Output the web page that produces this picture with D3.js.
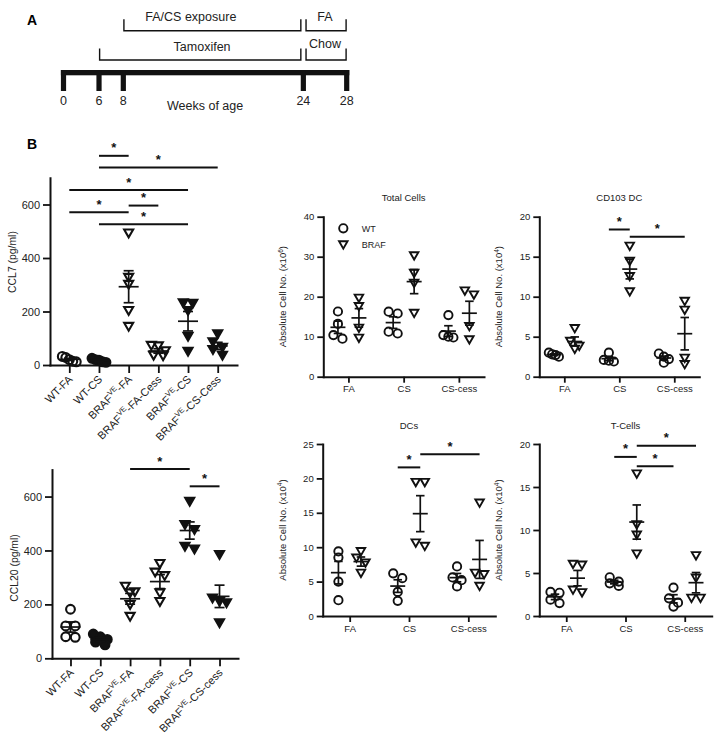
<!DOCTYPE html>
<html><head><meta charset="utf-8">
<script src="https://cdn.jsdelivr.net/npm/d3@7"></script>
<style>body{margin:0;background:#fff} svg{display:block}</style>
</head><body><svg id="c" width="725" height="743"></svg>
<script>
// ---------------- DATA ----------------
const timelineWeeks = [0, 6, 8, 24, 28];
const timelineAxisLabel = "Weeks of age";
const phaseLabels = ["FA/CS exposure", "FA", "Tamoxifen", "Chow"];
const phaseStart = [8, 24, 6, 24];
const phaseEnd = [24, 28, 24, 28];
const phaseRow = [0, 0, 1, 1];
const phaseLabelAt = [14, 26, 15, 26];

const cclCategories = ["WT-FA", "WT-CS", "BRAF-FA", "BRAF-FA-Cess", "BRAF-CS", "BRAF-CS-Cess"];
const cclMarkers = ["circle-open", "circle-filled", "tri-open", "tri-open", "tri-filled", "tri-filled"];
const ccl7TickLabels = [["WT-FA"], ["WT-CS"], ["BRAF", "VE", "-FA"], ["BRAF", "VE", "-FA-Cess"], ["BRAF", "VE", "-CS"], ["BRAF", "VE", "-CS-Cess"]];
const ccl20TickLabels = [["WT-FA"], ["WT-CS"], ["BRAF", "VE", "-FA"], ["BRAF", "VE", "-FA-cess"], ["BRAF", "VE", "-CS"], ["BRAF", "VE", "-CS-cess"]];
const cclYTicks = [0, 200, 400, 600];
const ccl7Values = [
  [32, 28, 20, 14, 12],
  [25, 20, 18, 12, 10],
  [492, 326, 300, 202, 143],
  [72, 70, 52, 35, 33],
  [231, 229, 202, 106, 50],
  [115, 85, 65, 56, 35]
];
const ccl20Values = [
  [182, 120, 120, 80, 78],
  [90, 80, 70, 60, 50],
  [266, 245, 241, 198, 154],
  [350, 318, 305, 241, 209],
  [581, 495, 476, 414, 404],
  [383, 222, 210, 204, 130]
];
// [from category, to category, bar level]
const ccl7Sig = [[1, 2, 782], [1, 5, 738], [0, 4, 654], [2, 3, 596], [0, 2, 571], [1, 4, 526]];
const ccl20Sig = [[2, 4, 702], [4, 5, 638]];

const cellGroups = ["FA", "CS", "CS-cess"];
const cellSeries = ["WT", "BRAF"];
const totalWT = [[16.3, 13.2, 9.5, 10.4], [15.8, 16.25, 10.8, 11.25], [15.4, 10.4, 10.0, 9.8]];
const totalBRAF = [[19.6, 17.5, 12.1, 9.6], [30.2, 25.8, 23.3, 15.8], [21.4, 20.4, 12.5, 9.2]];
const cd103WT = [[3.0, 2.7, 2.5, 2.8], [3.0, 1.9, 2.1, 2.0], [2.9, 2.5, 2.2, 1.75]];
const cd103BRAF = [[6.0, 4.4, 3.4, 3.8], [16.3, 14.4, 12.5, 10.6], [9.4, 8.3, 2.3, 1.5]];
const dcWT = [[8.5, 9.4, 5.0, 2.3], [5.5, 6.2, 3.5, 2.2], [7.2, 5.6, 5.2, 4.3]];
const dcBRAF = [[9.35, 8.4, 7.7, 6.2], [19.4, 19.4, 10.1, 10.6], [16.4, 6.2, 6.0, 4.3]];
const tWT = [[2.7, 2.8, 1.5, 1.9], [4.5, 4.0, 3.5, 3.8], [3.3, 2.05, 1.1, 1.55]];
const tBRAF = [[5.9, 6.0, 2.7, 3.0], [16.5, 10.6, 9.4, 7.2], [7.0, 4.4, 2.05, 2.05]];
// [group A, series A, group B, series B, bar level]
const cd103Sig = [[1, 0, 1, 1, 18.4], [1, 1, 2, 1, 17.5]];
const dcSig = [[1, 0, 1, 1, 21.6], [1, 1, 2, 1, 23.5]];
const tSig = [[1, 0, 1, 1, 18.5], [1, 1, 2, 1, 19.8], [1, 1, 2, 0, 17.4]];
const totalTicks = [0, 10, 20, 30, 40];
const cd103Ticks = [0, 5, 10, 15, 20];
const dcTicks = [0, 5, 10, 15, 20, 25];
const tTicks = [0, 5, 10, 15, 20];

// ---------------- DRAWING ----------------
const FONT = '"Liberation Sans", Arial, Helvetica, sans-serif';
const svg = d3.select("#c").attr("font-family", FONT);
const INK = "#111";

function styleAxis(sel, fs) {
  sel.attr("font-family", FONT).attr("font-size", fs);
  sel.select(".domain").attr("stroke", INK).attr("stroke-width", 2).attr("stroke-linecap", "square");
  sel.selectAll(".tick line").attr("stroke", INK).attr("stroke-width", 1.8);
  sel.selectAll(".tick text").attr("fill", "#222");
}

function marker(g, type, cx, cy, size) {
  const sw = size > 9.5 ? 2.1 : 1.9;
  if (type.startsWith("circle")) {
    g.append("circle").attr("cx", cx).attr("cy", cy).attr("r", size / 2 - 0.6)
      .attr("fill", type.endsWith("filled") ? INK : "none")
      .attr("stroke", INK).attr("stroke-width", sw);
  } else {
    const w = size - 1, h = w * 0.87;
    const p = d3.path();
    p.moveTo(cx - w / 2, cy - h / 2); p.lineTo(cx + w / 2, cy - h / 2); p.lineTo(cx, cy + h / 2); p.closePath();
    g.append("path").attr("d", p.toString())
      .attr("fill", type.endsWith("filled") ? INK : "none")
      .attr("stroke", INK).attr("stroke-width", sw).attr("stroke-linejoin", "miter");
  }
}

// GraphPad-like horizontal spreading of points that share a level
function swarm(values, y, diam, maxW) {
  const order = values.map((v, i) => i).sort((a, b) => values[b] - values[a]);
  const rows = [];
  order.forEach(i => {
    const py = y(values[i]);
    const last = rows[rows.length - 1];
    if (last && Math.abs(py - last.y0) < diam * 0.6) last.items.push(i);
    else rows.push({ y0: py, items: [i] });
  });
  const off = new Array(values.length).fill(0);
  rows.forEach(r => {
    const n = r.items.length;
    if (n < 2) return;
    const step = Math.min(diam * 0.95, maxW / (n - 1));
    r.items.forEach((i, k) => { off[i] = (k - (n - 1) / 2) * step; });
  });
  return off;
}

function meanSem(g, vals, cx, y, meanW, capW) {
  const m = d3.mean(vals), s = d3.deviation(vals) / Math.sqrt(vals.length);
  const ln = (x1, y1, x2, y2) => g.append("line").attr("x1", x1).attr("y1", y1).attr("x2", x2).attr("y2", y2)
    .attr("stroke", INK).attr("stroke-width", 1.7);
  ln(cx, y(m + s), cx, y(m - s));
  ln(cx - meanW / 2, y(m), cx + meanW / 2, y(m));
  ln(cx - capW / 2, y(m + s), cx + capW / 2, y(m + s));
  ln(cx - capW / 2, y(m - s), cx + capW / 2, y(m - s));
}

function sigBar(g, x1, x2, yy) {
  g.append("line").attr("x1", x1).attr("x2", x2).attr("y1", yy).attr("y2", yy)
    .attr("stroke", INK).attr("stroke-width", 2);
  g.append("text").attr("x", (x1 + x2) / 2).attr("y", yy - 3.5).attr("text-anchor", "middle")
    .attr("font-size", 13).attr("font-weight", "bold").attr("fill", INK).text("*");
}

// ---------- Panel A: timeline ----------
(function timeline() {
  const g = svg.append("g");
  const x0 = 63.5, x1 = 346.7;
  const frac = [0, 0.1254, 0.2112, 0.8469, 1];
  const tl = d3.scaleLinear().domain(timelineWeeks).range(frac.map(f => x0 + f * (x1 - x0)));
  g.append("text").attr("x", 27).attr("y", 25).attr("font-size", 14).attr("font-weight", "bold").text("A");
  g.append("rect").attr("x", tl(0) - 2.6).attr("y", 70).attr("width", tl(28) - tl(0) + 5.2).attr("height", 5.3).attr("fill", INK);
  timelineWeeks.forEach(w => {
    g.append("rect").attr("x", tl(w) - 2.6).attr("y", 70).attr("width", 5.2).attr("height", 21).attr("fill", INK);
    g.append("text").attr("x", tl(w)).attr("y", 105).attr("text-anchor", "middle").attr("font-size", 12.5).attr("fill", "#222").text(w);
  });
  g.append("text").attr("x", (tl(0) + tl(28)) / 2).attr("y", 110).attr("text-anchor", "middle").attr("font-size", 12.5).attr("fill", "#222").text(timelineAxisLabel);
  const rowY = [30.7, 60], rowTop = [19.3, 48.6], rowText = [20.5, 51];
  phaseLabels.forEach((lab, i) => {
    const a = tl(phaseStart[i]) + (phaseStart[i] === 24 ? 2.7 : 0.6);
    const b = tl(phaseEnd[i]) - (phaseEnd[i] === 24 ? 2.5 : 0.6);
    const r = phaseRow[i];
    g.append("path").attr("d", `M${a},${rowTop[r]}V${rowY[r]}H${b}V${rowTop[r]}`)
      .attr("fill", "none").attr("stroke", INK).attr("stroke-width", 1.4);
    g.append("text").attr("x", tl(phaseLabelAt[i])).attr("y", rowText[r] - (lab === "Chow" ? 3 : 0)).attr("text-anchor", "middle")
      .attr("font-size", 12.5).attr("fill", "#222").text(lab);
  });
})();

// ---------- Panel B: CCL7 / CCL20 ----------
svg.append("text").attr("x", 27).attr("y", 149).attr("font-size", 14).attr("font-weight", "bold").text("B");

function cclPanel(o) {
  const g = svg.append("g");
  const x = d3.scalePoint().domain(cclCategories).range(o.xr).padding(o.pad);
  const y = d3.scaleLinear().domain([0, 700]).range(o.yr);
  const ya = g.append("g").attr("transform", `translate(${o.xr[0]},0)`)
    .call(d3.axisLeft(y).tickValues(cclYTicks).tickSize(7).tickPadding(3).tickSizeOuter(0));
  styleAxis(ya, 11);
  const xa = g.append("g").attr("transform", `translate(0,${o.yr[0]})`)
    .call(d3.axisBottom(x).tickSize(8).tickSizeOuter(0).tickFormat(""));
  styleAxis(xa, 11);
  cclCategories.forEach((c, i) => {
    const parts = o.tickLabels[i];
    const t = g.append("text").attr("transform", `translate(${x(c) + 4},${o.yr[0] + 15}) rotate(-45)`)
      .attr("text-anchor", "end").attr("font-size", 11).attr("fill", "#222");
    t.append("tspan").text(parts[0]);
    if (parts.length > 1) {
      t.append("tspan").attr("font-size", 7.5).attr("dy", -4.5).text(parts[1]);
      t.append("tspan").attr("dy", 4.5).text(parts[2]);
    }
  });
  g.append("text").attr("transform", `translate(${o.xr[0] - 34},${o.labelY}) rotate(-90)`)
    .attr("text-anchor", "middle").attr("font-size", 10.4).attr("fill", "#222").text(o.label);
  const D = 10;
  o.values.forEach((vals, i) => {
    const cx = x(cclCategories[i]);
    const off = swarm(vals, y, D, 14);
    vals.forEach((v, k) => marker(g, cclMarkers[i], cx + off[k], y(v), D));
    meanSem(g, vals, cx, y, 20, 10);
  });
  o.sig.forEach(([a, b, lvl]) => sigBar(g, x(cclCategories[a]), x(cclCategories[b]), y(lvl)));
}

cclPanel({ xr: [50, 237], pad: 0.65, yr: [365, 177.75], values: ccl7Values, sig: ccl7Sig,
  tickLabels: ccl7TickLabels, label: "CCL7 (pg/ml)", labelY: 262 });
cclPanel({ xr: [52, 238], pad: 0.62, yr: [658.3, 469.6], values: ccl20Values, sig: ccl20Sig,
  tickLabels: ccl20TickLabels, label: "CCL20 (pg/ml)", labelY: 568 });

// ---------- Cell count panels ----------
function cellPanel(o) {
  const g = svg.append("g");
  const x = d3.scalePoint().domain(cellGroups).range(o.xr).padding(0.455);
  const y = d3.scaleLinear().domain([0, o.max]).range(o.yr);
  const off = 0.19 * x.step();
  const ya = g.append("g").attr("transform", `translate(${o.xr[0]},0)`)
    .call(d3.axisLeft(y).tickValues(o.ticks).tickSize(6).tickPadding(3).tickSizeOuter(0));
  styleAxis(ya, 9.5);
  const xa = g.append("g").attr("transform", `translate(0,${o.yr[0]})`)
    .call(d3.axisBottom(x).tickSize(6).tickPadding(3).tickSizeOuter(0));
  styleAxis(xa, 9.5);
  g.append("text").attr("x", (o.xr[0] + o.xr[1]) / 2).attr("y", o.yr[1] - 15.5).attr("text-anchor", "middle")
    .attr("font-size", 9.5).attr("fill", "#222").text(o.title);
  const yl = g.append("text").attr("transform", `translate(${o.xr[0] - 37},${(o.yr[0] + o.yr[1]) / 2}) rotate(-90)`)
    .attr("text-anchor", "middle").attr("font-size", 9.5).attr("fill", "#222");
  yl.append("tspan").text("Absolute Cell No. (x10");
  yl.append("tspan").attr("font-size", 6.5).attr("dy", -3.5).text(o.exp);
  yl.append("tspan").attr("dy", 3.5).text(")");
  const series = [o.wt, o.braf];
  const mk = ["circle-open", "tri-open"];
  const D = 9.5;
  const px = (gi, si) => x(cellGroups[gi]) + (si === 0 ? -off : off);
  cellGroups.forEach((grp, gi) => {
    series.forEach((s, si) => {
      const vals = s[gi];
      const cx = px(gi, si);
      const o2 = swarm(vals, y, D, 10);
      vals.forEach((v, k) => marker(g, mk[si], cx + o2[k], y(v), D));
      meanSem(g, vals, cx, y, 15, 8.5);
    });
  });
  (o.sig || []).forEach(([ga, sa, gb, sb, lvl]) => sigBar(g, px(ga, sa), px(gb, sb), y(lvl)));
  if (o.legend) {
    const lx = o.xr[0] + 20, ly = o.yr[1] + 11.6;
    cellSeries.forEach((name, si) => {
      marker(g, mk[si], lx, ly + si * 16.7, D);
      g.append("text").attr("x", lx + 18.4).attr("y", ly + si * 16.7 + 3.3).attr("font-size", 9)
        .attr("fill", "#222").text(name);
    });
  }
}

cellPanel({ title: "Total Cells", xr: [323.3, 484], yr: [376.7, 216.7], max: 40, ticks: totalTicks,
  wt: totalWT, braf: totalBRAF, exp: "6", legend: true });
cellPanel({ title: "CD103 DC", xr: [539.3, 699.3], yr: [376.7, 216.7], max: 20, ticks: cd103Ticks,
  wt: cd103WT, braf: cd103BRAF, exp: "4", sig: cd103Sig });
cellPanel({ title: "DCs", xr: [322.7, 495.3], yr: [616, 444], max: 25, ticks: dcTicks,
  wt: dcWT, braf: dcBRAF, exp: "4", sig: dcSig });
cellPanel({ title: "T-Cells", xr: [539.3, 711.7], yr: [616, 444], max: 20, ticks: tTicks,
  wt: tWT, braf: tBRAF, exp: "4", sig: tSig });
</script>
</body></html>
